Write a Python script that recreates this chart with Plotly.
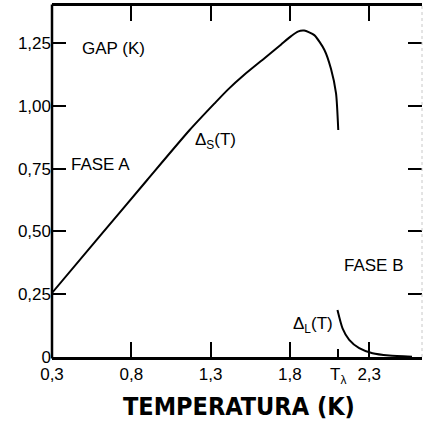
import plotly.graph_objects as go

# Data
ts_T = [0.30, 0.60, 0.90, 1.168, 1.325, 1.409, 1.514, 1.640, 1.745, 1.808, 1.850, 1.890, 1.954, 2.017, 2.059, 2.091, 2.105]
ts_D = [0.255, 0.480, 0.705, 0.904, 1.010, 1.065, 1.125, 1.190, 1.245, 1.278, 1.296, 1.300, 1.282, 1.224, 1.148, 1.050, 0.904]

tl_T = [2.100, 2.132, 2.174, 2.237, 2.321, 2.426, 2.570]
tl_D = [0.187, 0.114, 0.068, 0.035, 0.015, 0.006, 0.001]

x_ticks = [0.3, 0.8, 1.3, 1.8, 2.3]
x_ticklabels = ["0,3", "0,8", "1,3", "1,8", "2,3"]
y_ticks = [0, 0.25, 0.5, 0.75, 1.0, 1.25]
y_ticklabels = ["0", "0,25", "0,50", "0,75", "1,00", "1,25"]
T_lambda = 2.105
T_lambda_label = "T<sub>λ</sub>"

x_range = [0.3, 2.633]
y_range = [0, 1.398]

FONT = "Liberation Sans, Arial, sans-serif"
TITLE_FONT = "DejaVu Sans Condensed, Liberation Sans, sans-serif"

fig = go.Figure()
fig.add_trace(go.Scatter(x=ts_T, y=ts_D, mode="lines",
                         line=dict(color="black", width=2, shape="spline", smoothing=0.6),
                         showlegend=False, hoverinfo="skip"))
fig.add_trace(go.Scatter(x=tl_T, y=tl_D, mode="lines",
                         line=dict(color="black", width=2, shape="spline", smoothing=0.6),
                         showlegend=False, hoverinfo="skip"))
# invisible trace for the T_lambda axis
fig.add_trace(go.Scatter(x=[T_lambda], y=[0], xaxis="x2", mode="markers",
                         marker=dict(opacity=0), showlegend=False, hoverinfo="skip"))

fig.update_layout(
    width=425, height=424,
    margin=dict(l=52, r=3, t=6, b=67),
    paper_bgcolor="white", plot_bgcolor="white",
    font=dict(family=FONT, size=17, color="black"),
    xaxis=dict(range=x_range, tickvals=x_ticks, ticktext=x_ticklabels,
               showgrid=False, zeroline=False, showline=True, linecolor="black",
               linewidth=3, mirror="ticks", ticks="inside", ticklen=15, tickwidth=1.5,
               tickcolor="black", tickfont=dict(family=FONT, size=17),
               ticklabelstandoff=0),
    xaxis2=dict(range=x_range, overlaying="x", side="bottom", anchor="y",
                tickvals=[T_lambda], showticklabels=False,
                showgrid=False, zeroline=False, showline=False,
                ticks="inside", ticklen=8, tickwidth=1.5, tickcolor="black"),
    yaxis=dict(range=y_range, tickvals=y_ticks, ticktext=y_ticklabels,
               showgrid=False, zeroline=False, showline=False,
               mirror="ticks", ticks="inside", ticklen=14, tickwidth=1.5,
               tickcolor="black", tickfont=dict(family=FONT, size=17),
               ticklabelstandoff=0),
    shapes=[
        dict(type="line", xref="paper", yref="paper", x0=0, x1=0, y0=-0.004, y1=1.004,
             line=dict(color="black", width=2.5)),
        dict(type="line", xref="paper", yref="paper", x0=1, x1=1, y0=0, y1=1,
             line=dict(color="#c8c8c8", width=1, dash="dot")),
    ],
    annotations=[
        dict(x=T_lambda, y=-0.018, xref="x", yref="paper", text=T_lambda_label,
             showarrow=False, xanchor="center", yanchor="top",
             font=dict(family=FONT, size=17)),
        dict(x=0.476, y=1.227, xref="x", yref="y", text="GAP (K)", showarrow=False,
             xanchor="left", yanchor="middle", font=dict(family=FONT, size=17)),
        dict(x=0.405, y=0.765, xref="x", yref="y", text="FASE A", showarrow=False,
             xanchor="left", yanchor="middle", font=dict(family=FONT, size=17)),
        dict(x=1.187, y=0.86, xref="x", yref="y", text="Δ<sub>S</sub>(T)", showarrow=False,
             xanchor="left", yanchor="middle", font=dict(family=FONT, size=17)),
        dict(x=2.13, y=0.3625, xref="x", yref="y", text="FASE B", showarrow=False,
             xanchor="left", yanchor="middle", font=dict(family=FONT, size=17)),
        dict(x=1.809, y=0.128, xref="x", yref="y", text="Δ<sub>L</sub>(T)", showarrow=False,
             xanchor="left", yanchor="middle", font=dict(family=FONT, size=17)),
        dict(x=0.505, y=-0.142, xref="paper", yref="paper", text="<b>TEMPERATURA (K)</b>",
             showarrow=False, xanchor="center", yanchor="middle",
             font=dict(family=TITLE_FONT, size=25)),
    ],
)

fig.write_html("out.html")
